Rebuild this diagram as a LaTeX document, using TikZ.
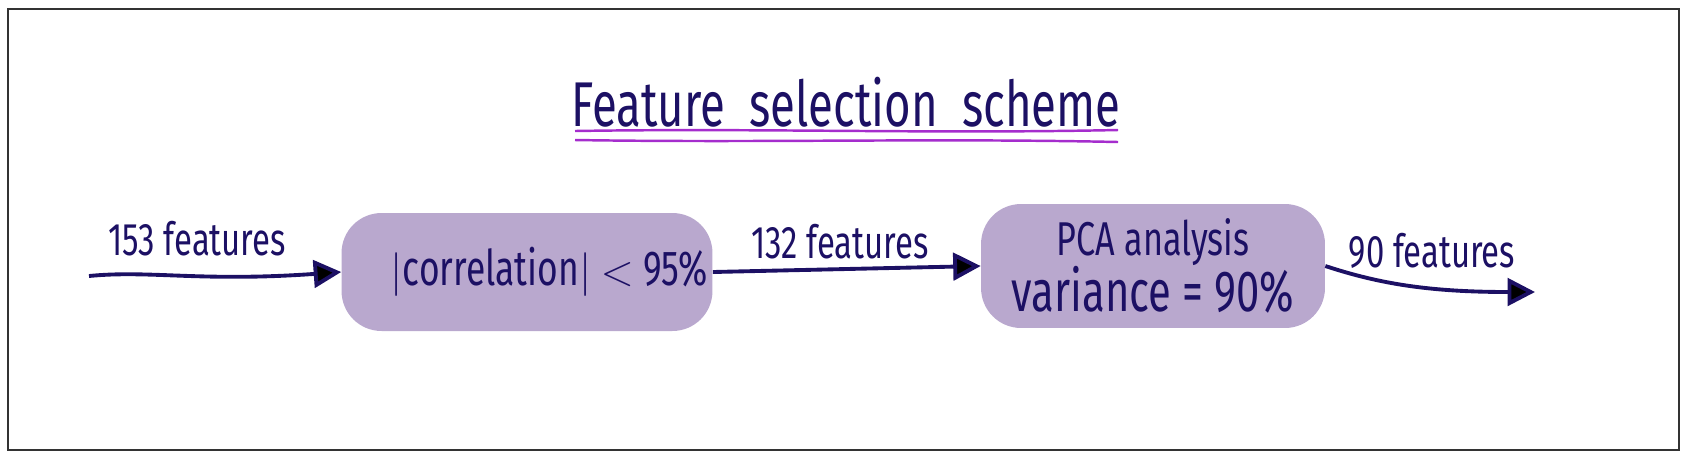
\documentclass[tikz,border=0pt]{standalone}
\usepackage{fontspec}
\setmainfont{Fira Sans}
\newfontfamily\hand[FakeStretch=0.72]{Fira Sans}
\usepackage{xcolor}
\usepackage{tikz}
\usetikzlibrary{arrows.meta,positioning}
\definecolor{inkblue}{RGB}{28,16,100}
\definecolor{lavender}{RGB}{185,168,206}
\definecolor{markpurple}{RGB}{165,45,205}

\begin{document}
\begin{tikzpicture}[
    x=0.02cm, y=-0.02cm,
    blob/.style={rounded corners=0.8cm, fill=lavender, inner sep=0pt, text=inkblue, align=center},
    label/.style={text=inkblue, font=\hand\fontsize{26}{28}\selectfont, inner sep=1pt},
    flow/.style={-{Triangle[length=0.55cm, width=0.55cm, fill=black]}, line width=2.2pt, draw=inkblue}
]
    \useasboundingbox (0,0) rectangle (1686,461);
    \draw[line width=0.6pt, black!80] (8,9) rectangle (1679,450);

    % Title
    \node[text=inkblue, font=\hand\fontsize{36}{40}\selectfont, inner sep=0pt] (title) at (846,102) {Feature\ \ selection\ \ scheme};
    \draw[markpurple, line width=1.4pt] (575,131) .. controls (760,128) and (930,134) .. (1118,130);
    \draw[markpurple, line width=1.4pt] (575,140) .. controls (760,143) and (930,138) .. (1118,142);

    % Boxes
    \node[blob, minimum width=7.42cm, minimum height=2.36cm, font=\hand\fontsize{28}{30}\selectfont] (corr) at (527,272) {\hspace{0.9cm}$|$correlation$|$ $<$ 95\%};
    \node[blob, minimum width=6.88cm, minimum height=2.48cm] (pca) at (1153,266)
        {{\hand\fontsize{27}{29}\selectfont PCA analysis\hspace{1.2cm}}\\[-1pt]{\hand\fontsize{33}{35}\selectfont variance = 90\%}};

    % Free ends
    \coordinate (src) at (89,276);
    \coordinate (dst) at (1535,292);

    % Arrows
    \draw[flow] (src) .. controls (150,270) and (200,282) .. (corr.west);
    \draw[flow] (corr.east) -- (pca.west);
    \draw[flow] (pca.east) .. controls (1380,284) and (1430,292) .. (dst);

    % Labels
    \node[label] (l153) at (197,239) {153 features};
    \node[label] (l132) at (840,242) {132 features};
    \node[label] (l90) at (1432,251) {90 features};
\end{tikzpicture}
\end{document}
